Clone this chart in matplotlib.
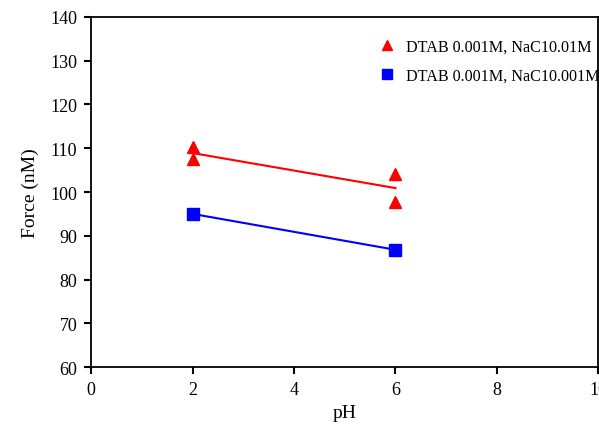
import numpy as np
import matplotlib.pyplot as plt

plt.rcParams['font.family'] = ['Liberation Serif', 'DejaVu Serif']

# Data
ph_red = [2, 2, 6, 6]
force_red = [110.3, 107.5, 104.0, 97.8]
ph_blue = [2, 6]
force_blue = [95.0, 86.8]
label_red = 'DTAB 0.001M, NaC10.01M'
label_blue = 'DTAB 0.001M, NaC10.001M'

fig = plt.figure(figsize=(5.99, 4.27), dpi=100)
ax = fig.add_axes([0.152, 0.138, 0.847, 0.82])

# red: scatter + linear fit
ax.plot(ph_red, force_red, '^', color='#ff0000', markersize=9, label=label_red, zorder=3)
coef = np.polyfit(ph_red, force_red, 1)
xs = np.array([2, 6])
ax.plot(xs, np.polyval(coef, xs), color='#ff0000', lw=1.5)

# blue: points joined
ax.plot(ph_blue, force_blue, 's', color='#0000ff', markersize=8, label=label_blue, zorder=3)
ax.plot(ph_blue, force_blue, color='#0000ff', lw=1.5)

ax.set_xlim(0, 10)
ax.set_ylim(60, 140)
ax.set_xticks([0, 2, 4, 6, 8, 10])
ax.set_yticks(range(60, 141, 10))
ax.tick_params(direction='out', length=5, width=1.5, labelsize=13, pad=5, top=False, right=False)
for s in ax.spines.values():
    s.set_linewidth(1.3)
ax.set_xlabel('pH', fontsize=14, labelpad=4)
ax.set_ylabel('Force (nM)', fontsize=14, labelpad=8)

ax.legend(loc='upper left', frameon=False, fontsize=11.6, handletextpad=0.45,
          labelspacing=0.85, markerscale=0.85, handlelength=1.5,
          bbox_to_anchor=(0.53, 0.98))

fig.savefig('out.png', dpi=100)
